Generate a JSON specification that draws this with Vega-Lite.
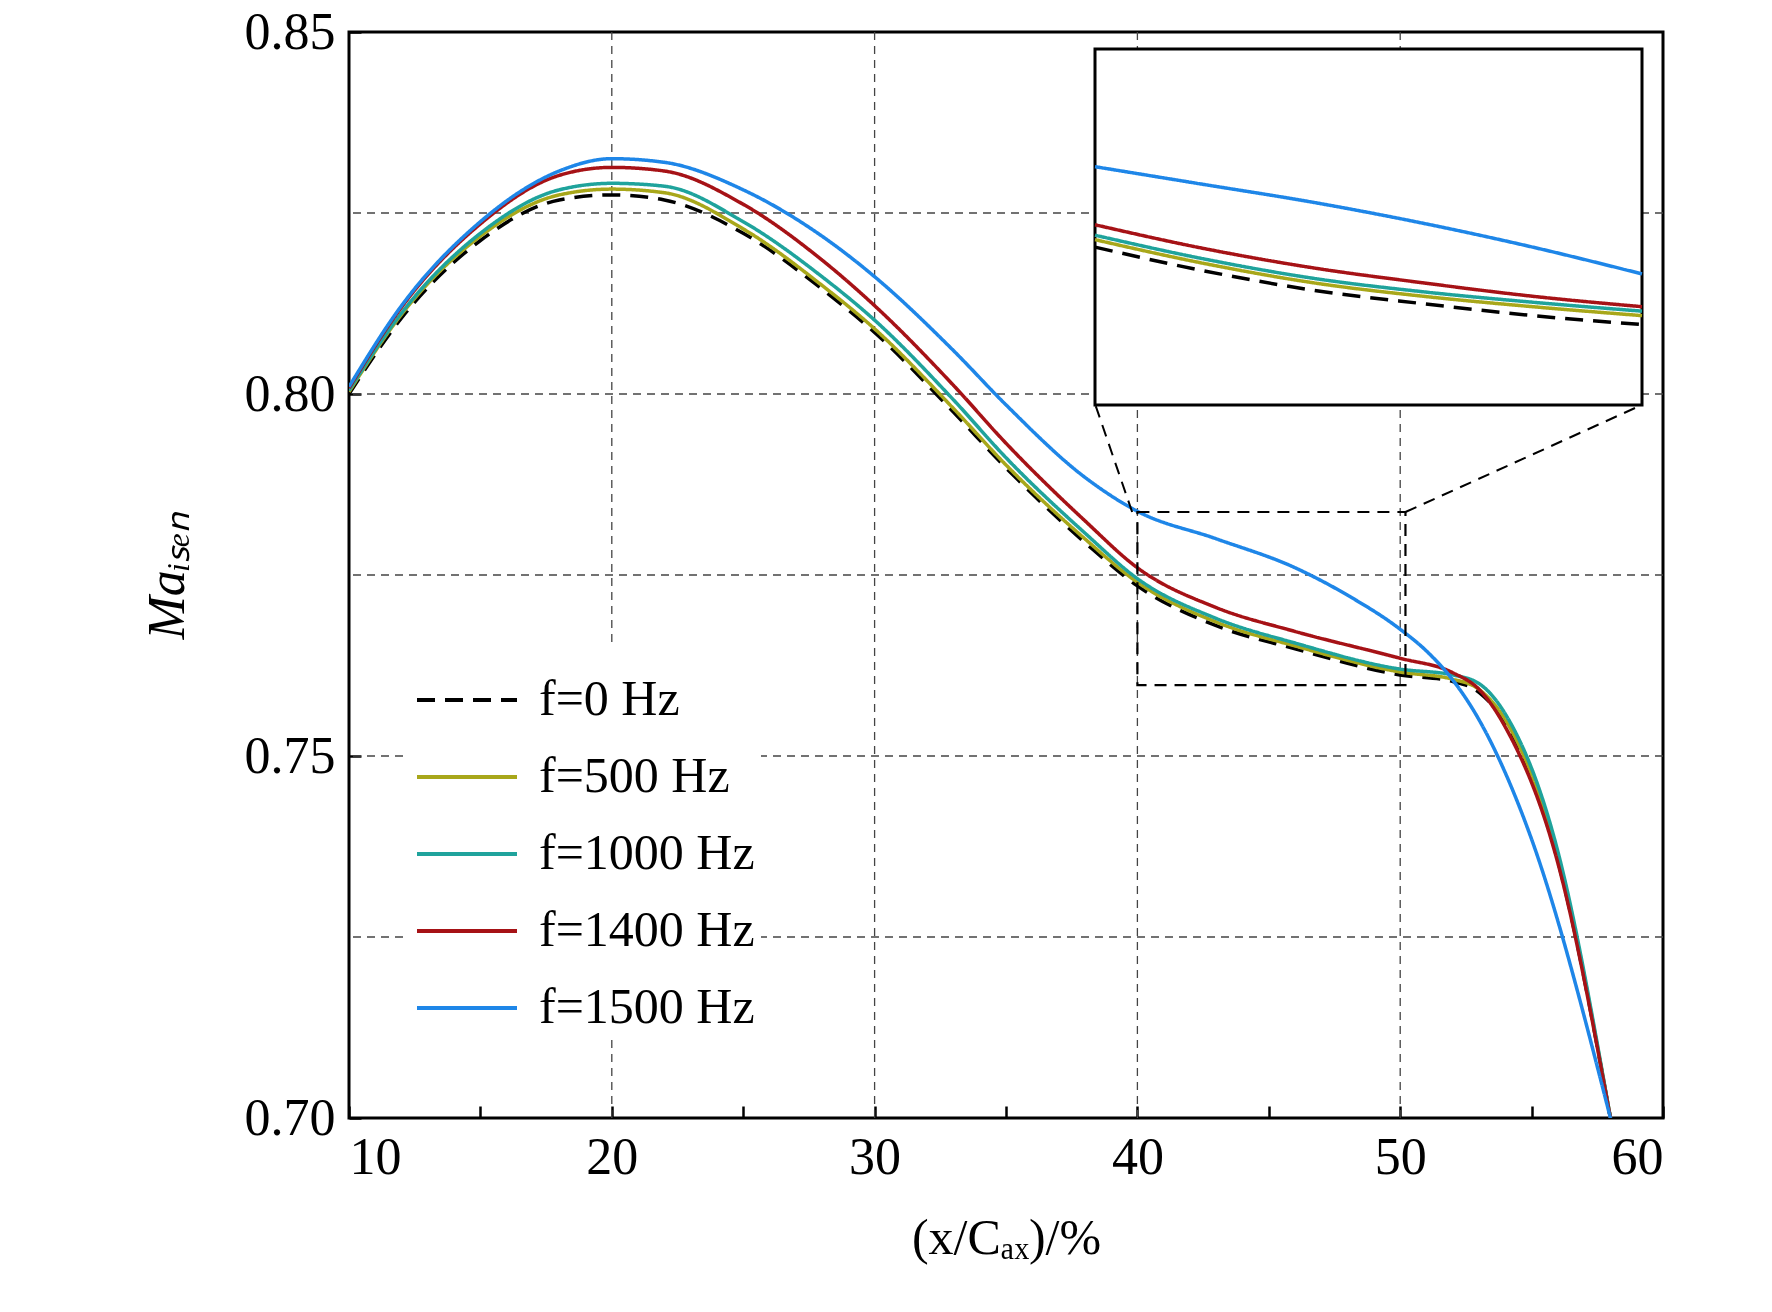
{
  "$schema": "https://vega.github.io/schema/vega-lite/v6.json",
  "width": 1314,
  "height": 1086,
  "autosize": "none",
  "padding": {"left": 349, "top": 32, "right": 109, "bottom": 194},
  "background": "white",
  "config": {
    "font": "Liberation Serif",
    "view": {"stroke": "black", "strokeWidth": 3},
    "axis": {"labelFont": "Liberation Serif", "titleFont": "Liberation Serif", "labelColor": "black", "titleColor": "black", "titleFontWeight": "normal"}
  },
  "datasets": {
    "curves": [
      {"x": 10, "y": 0.800, "f": "f=0 Hz"}, {"x": 12, "y": 0.8105, "f": "f=0 Hz"}, {"x": 15, "y": 0.8212, "f": "f=0 Hz"}, {"x": 18, "y": 0.8268, "f": "f=0 Hz"}, {"x": 20, "y": 0.8275, "f": "f=0 Hz"}, {"x": 22, "y": 0.8268, "f": "f=0 Hz"}, {"x": 25, "y": 0.8222, "f": "f=0 Hz"}, {"x": 28, "y": 0.8145, "f": "f=0 Hz"}, {"x": 30, "y": 0.8085, "f": "f=0 Hz"}, {"x": 33, "y": 0.7975, "f": "f=0 Hz"}, {"x": 35, "y": 0.7898, "f": "f=0 Hz"}, {"x": 38, "y": 0.7795, "f": "f=0 Hz"}, {"x": 40, "y": 0.7735, "f": "f=0 Hz"}, {"x": 43, "y": 0.7680, "f": "f=0 Hz"}, {"x": 46, "y": 0.7648, "f": "f=0 Hz"}, {"x": 50, "y": 0.7612, "f": "f=0 Hz"}, {"x": 52, "y": 0.7603, "f": "f=0 Hz"}, {"x": 53, "y": 0.7588, "f": "f=0 Hz"}, {"x": 54, "y": 0.7545, "f": "f=0 Hz"}, {"x": 56, "y": 0.7355, "f": "f=0 Hz"}, {"x": 58, "y": 0.700, "f": "f=0 Hz"},

      {"x": 10, "y": 0.8003, "f": "f=500 Hz"}, {"x": 12, "y": 0.8110, "f": "f=500 Hz"}, {"x": 15, "y": 0.8218, "f": "f=500 Hz"}, {"x": 18, "y": 0.8275, "f": "f=500 Hz"}, {"x": 20, "y": 0.8283, "f": "f=500 Hz"}, {"x": 22, "y": 0.8278, "f": "f=500 Hz"}, {"x": 25, "y": 0.8228, "f": "f=500 Hz"}, {"x": 28, "y": 0.8150, "f": "f=500 Hz"}, {"x": 30, "y": 0.8090, "f": "f=500 Hz"}, {"x": 33, "y": 0.7980, "f": "f=500 Hz"}, {"x": 35, "y": 0.7902, "f": "f=500 Hz"}, {"x": 38, "y": 0.7800, "f": "f=500 Hz"}, {"x": 40, "y": 0.7740, "f": "f=500 Hz"}, {"x": 43, "y": 0.7685, "f": "f=500 Hz"}, {"x": 46, "y": 0.7652, "f": "f=500 Hz"}, {"x": 50, "y": 0.7616, "f": "f=500 Hz"}, {"x": 52, "y": 0.7606, "f": "f=500 Hz"}, {"x": 53, "y": 0.7592, "f": "f=500 Hz"}, {"x": 54, "y": 0.7550, "f": "f=500 Hz"}, {"x": 56, "y": 0.7360, "f": "f=500 Hz"}, {"x": 58, "y": 0.700, "f": "f=500 Hz"},

      {"x": 10, "y": 0.8005, "f": "f=1000 Hz"}, {"x": 12, "y": 0.8112, "f": "f=1000 Hz"}, {"x": 15, "y": 0.8222, "f": "f=1000 Hz"}, {"x": 18, "y": 0.8282, "f": "f=1000 Hz"}, {"x": 20, "y": 0.8291, "f": "f=1000 Hz"}, {"x": 22, "y": 0.8287, "f": "f=1000 Hz"}, {"x": 25, "y": 0.8238, "f": "f=1000 Hz"}, {"x": 28, "y": 0.8162, "f": "f=1000 Hz"}, {"x": 30, "y": 0.8102, "f": "f=1000 Hz"}, {"x": 33, "y": 0.7992, "f": "f=1000 Hz"}, {"x": 35, "y": 0.7912, "f": "f=1000 Hz"}, {"x": 38, "y": 0.7808, "f": "f=1000 Hz"}, {"x": 40, "y": 0.7745, "f": "f=1000 Hz"}, {"x": 43, "y": 0.7690, "f": "f=1000 Hz"}, {"x": 46, "y": 0.7656, "f": "f=1000 Hz"}, {"x": 50, "y": 0.7620, "f": "f=1000 Hz"}, {"x": 52, "y": 0.7612, "f": "f=1000 Hz"}, {"x": 53, "y": 0.7600, "f": "f=1000 Hz"}, {"x": 54, "y": 0.7558, "f": "f=1000 Hz"}, {"x": 56, "y": 0.7368, "f": "f=1000 Hz"}, {"x": 58, "y": 0.700, "f": "f=1000 Hz"},

      {"x": 10, "y": 0.8008, "f": "f=1400 Hz"}, {"x": 12, "y": 0.8120, "f": "f=1400 Hz"}, {"x": 15, "y": 0.8235, "f": "f=1400 Hz"}, {"x": 18, "y": 0.8302, "f": "f=1400 Hz"}, {"x": 20, "y": 0.8313, "f": "f=1400 Hz"}, {"x": 22, "y": 0.8308, "f": "f=1400 Hz"}, {"x": 25, "y": 0.8262, "f": "f=1400 Hz"}, {"x": 28, "y": 0.8185, "f": "f=1400 Hz"}, {"x": 30, "y": 0.8122, "f": "f=1400 Hz"}, {"x": 33, "y": 0.8012, "f": "f=1400 Hz"}, {"x": 35, "y": 0.7932, "f": "f=1400 Hz"}, {"x": 38, "y": 0.7825, "f": "f=1400 Hz"}, {"x": 40, "y": 0.7760, "f": "f=1400 Hz"}, {"x": 43, "y": 0.7705, "f": "f=1400 Hz"}, {"x": 46, "y": 0.7672, "f": "f=1400 Hz"}, {"x": 50, "y": 0.7635, "f": "f=1400 Hz"}, {"x": 52, "y": 0.7615, "f": "f=1400 Hz"}, {"x": 53, "y": 0.7592, "f": "f=1400 Hz"}, {"x": 54, "y": 0.7540, "f": "f=1400 Hz"}, {"x": 56, "y": 0.7352, "f": "f=1400 Hz"}, {"x": 58, "y": 0.700, "f": "f=1400 Hz"},

      {"x": 10, "y": 0.8010, "f": "f=1500 Hz"}, {"x": 12, "y": 0.8122, "f": "f=1500 Hz"}, {"x": 15, "y": 0.8238, "f": "f=1500 Hz"}, {"x": 18, "y": 0.8308, "f": "f=1500 Hz"}, {"x": 20, "y": 0.8325, "f": "f=1500 Hz"}, {"x": 22, "y": 0.8320, "f": "f=1500 Hz"}, {"x": 25, "y": 0.8282, "f": "f=1500 Hz"}, {"x": 28, "y": 0.8218, "f": "f=1500 Hz"}, {"x": 30, "y": 0.8162, "f": "f=1500 Hz"}, {"x": 33, "y": 0.8060, "f": "f=1500 Hz"}, {"x": 35, "y": 0.7985, "f": "f=1500 Hz"}, {"x": 38, "y": 0.7885, "f": "f=1500 Hz"}, {"x": 40, "y": 0.7838, "f": "f=1500 Hz"}, {"x": 43, "y": 0.7800, "f": "f=1500 Hz"}, {"x": 46, "y": 0.7760, "f": "f=1500 Hz"}, {"x": 48, "y": 0.7722, "f": "f=1500 Hz"}, {"x": 50, "y": 0.7675, "f": "f=1500 Hz"}, {"x": 51, "y": 0.7645, "f": "f=1500 Hz"}, {"x": 52, "y": 0.7605, "f": "f=1500 Hz"}, {"x": 53, "y": 0.7550, "f": "f=1500 Hz"}, {"x": 55, "y": 0.7385, "f": "f=1500 Hz"}, {"x": 58, "y": 0.700, "f": "f=1500 Hz"}
    ],
    "inset": [
      {"x": 40, "y": 0.7704, "f": "f=0 Hz"}, {"x": 42, "y": 0.7688, "f": "f=0 Hz"}, {"x": 44, "y": 0.7675, "f": "f=0 Hz"}, {"x": 46, "y": 0.7666, "f": "f=0 Hz"}, {"x": 48, "y": 0.7658, "f": "f=0 Hz"}, {"x": 50, "y": 0.7652, "f": "f=0 Hz"},
      {"x": 40, "y": 0.7709, "f": "f=500 Hz"}, {"x": 42, "y": 0.7693, "f": "f=500 Hz"}, {"x": 44, "y": 0.7680, "f": "f=500 Hz"}, {"x": 46, "y": 0.7671, "f": "f=500 Hz"}, {"x": 48, "y": 0.7664, "f": "f=500 Hz"}, {"x": 50, "y": 0.7658, "f": "f=500 Hz"},
      {"x": 40, "y": 0.7712, "f": "f=1000 Hz"}, {"x": 42, "y": 0.7696, "f": "f=1000 Hz"}, {"x": 44, "y": 0.7683, "f": "f=1000 Hz"}, {"x": 46, "y": 0.7674, "f": "f=1000 Hz"}, {"x": 48, "y": 0.7667, "f": "f=1000 Hz"}, {"x": 50, "y": 0.7661, "f": "f=1000 Hz"},
      {"x": 40, "y": 0.7719, "f": "f=1400 Hz"}, {"x": 42, "y": 0.7703, "f": "f=1400 Hz"}, {"x": 44, "y": 0.7690, "f": "f=1400 Hz"}, {"x": 46, "y": 0.7680, "f": "f=1400 Hz"}, {"x": 48, "y": 0.7671, "f": "f=1400 Hz"}, {"x": 50, "y": 0.7664, "f": "f=1400 Hz"},
      {"x": 40, "y": 0.7758, "f": "f=1500 Hz"}, {"x": 42, "y": 0.7746, "f": "f=1500 Hz"}, {"x": 44, "y": 0.7734, "f": "f=1500 Hz"}, {"x": 46, "y": 0.7720, "f": "f=1500 Hz"}, {"x": 48, "y": 0.7704, "f": "f=1500 Hz"}, {"x": 50, "y": 0.7686, "f": "f=1500 Hz"}
    ]
  },
  "layer": [
    {
      "layer": [
        {
          "data": {"values": [{"v": 20}, {"v": 30}, {"v": 40}, {"v": 50}]},
          "mark": {"type": "rule", "color": "#444", "strokeWidth": 1.3, "strokeDash": [8, 6]},
          "encoding": {"x": {"field": "v", "type": "quantitative", "scale": {"domain": [10, 60]}}}
        },
        {
          "data": {"values": [{"v": 0.725}, {"v": 0.75}, {"v": 0.775}, {"v": 0.8}, {"v": 0.825}]},
          "mark": {"type": "rule", "color": "#444", "strokeWidth": 1.3, "strokeDash": [8, 6]},
          "encoding": {"y": {"field": "v", "type": "quantitative", "scale": {"domain": [0.7, 0.85]}}}
        },
        {
          "data": {"name": "curves"},
          "mark": {"type": "line", "strokeWidth": 3.5, "clip": true, "interpolate": "monotone"},
          "encoding": {
            "x": {"field": "x", "type": "quantitative", "scale": {"domain": [10, 60], "nice": false},
              "axis": {"values": [10, 15, 20, 25, 30, 35, 40, 45, 50, 55, 60], "labelExpr": "datum.value % 10 == 0 ? datum.label : ''",
                "tickSize": -12, "tickWidth": 2.5, "tickColor": "black", "domain": false, "grid": false,
                "labelFontSize": 52, "labelPadding": 26, "title": "(x/Cₐₓ)/%", "titleFontSize": 50, "titlePadding": 30}},
            "y": {"field": "y", "type": "quantitative", "scale": {"domain": [0.7, 0.85], "nice": false, "zero": false},
              "axis": {"values": [0.7, 0.75, 0.8, 0.85], "format": ".2f", "tickSize": -12, "tickWidth": 2.5, "tickColor": "black",
                "domain": false, "grid": false, "labelFontSize": 52, "labelPadding": 26, "title": "Maᵢₛₑₙ", "titleFontSize": 52, "titleFontStyle": "italic", "titlePadding": 50}},
            "color": {"field": "f", "type": "nominal", "sort": ["f=0 Hz", "f=500 Hz", "f=1000 Hz", "f=1400 Hz", "f=1500 Hz"],
              "scale": {"domain": ["f=0 Hz", "f=500 Hz", "f=1000 Hz", "f=1400 Hz", "f=1500 Hz"], "range": ["#000000", "#a8a71a", "#1fa39c", "#a61216", "#1e86e8"]},
              "legend": {"title": null, "orient": "none", "legendX": 60, "legendY": 610, "fillColor": "white", "padding": 6,
                "symbolType": "stroke", "symbolSize": 10000, "symbolStrokeWidth": 4, "labelFontSize": 50, "labelFont": "Liberation Serif",
                "labelColor": "black", "labelLimit": 0, "rowPadding": -12, "labelOffset": 20}},
            "strokeDash": {"field": "f", "type": "nominal", "sort": ["f=0 Hz", "f=500 Hz", "f=1000 Hz", "f=1400 Hz", "f=1500 Hz"],
              "scale": {"domain": ["f=0 Hz", "f=500 Hz", "f=1000 Hz", "f=1400 Hz", "f=1500 Hz"], "range": [[18, 10], [1, 0], [1, 0], [1, 0], [1, 0]]}}
          }
        },
        {
          "data": {"values": [{"x": 40, "x2": 50.2, "y": 0.7598, "y2": 0.7837}]},
          "mark": {"type": "rect", "fill": null, "fillOpacity": 0, "stroke": "black", "strokeWidth": 2.2, "strokeDash": [12, 8]},
          "encoding": {"x": {"field": "x", "type": "quantitative"}, "x2": {"field": "x2"}, "y": {"field": "y", "type": "quantitative"}, "y2": {"field": "y2"}}
        },
        {
          "data": {"values": [{"x": 39.8, "x2": 38.4, "y": 0.7837, "y2": 0.7985}, {"x": 50.2, "x2": 59.2, "y": 0.7837, "y2": 0.7985}]},
          "mark": {"type": "rule", "color": "black", "strokeWidth": 2, "strokeDash": [12, 8]},
          "encoding": {"x": {"field": "x", "type": "quantitative"}, "x2": {"field": "x2"}, "y": {"field": "y", "type": "quantitative"}, "y2": {"field": "y2"}}
        }
      ]
    },
    {
      "layer": [
        {
          "data": {"values": [{"x": 40, "x2": 50, "y": 0.7598, "y2": 0.7837}]},
          "mark": {"type": "rect", "fill": "white", "stroke": "black", "strokeWidth": 3},
          "encoding": {
            "x": {"field": "x", "type": "quantitative", "scale": {"domain": [40, 50], "range": [746, 1293], "nice": false}, "axis": null},
            "x2": {"field": "x2"},
            "y": {"field": "y", "type": "quantitative", "scale": {"domain": [0.7598, 0.7837], "range": [373, 17], "nice": false, "zero": false}, "axis": null},
            "y2": {"field": "y2"}
          }
        },
        {
          "data": {"name": "inset"},
          "mark": {"type": "line", "strokeWidth": 3.5, "interpolate": "monotone"},
          "encoding": {
            "x": {"field": "x", "type": "quantitative", "axis": null},
            "y": {"field": "y", "type": "quantitative", "axis": null},
            "color": {"field": "f", "type": "nominal"},
            "strokeDash": {"field": "f", "type": "nominal"}
          }
        }
      ]
    }
  ],
  "resolve": {"scale": {"x": "independent", "y": "independent"}, "axis": {"x": "independent", "y": "independent"}}
}
